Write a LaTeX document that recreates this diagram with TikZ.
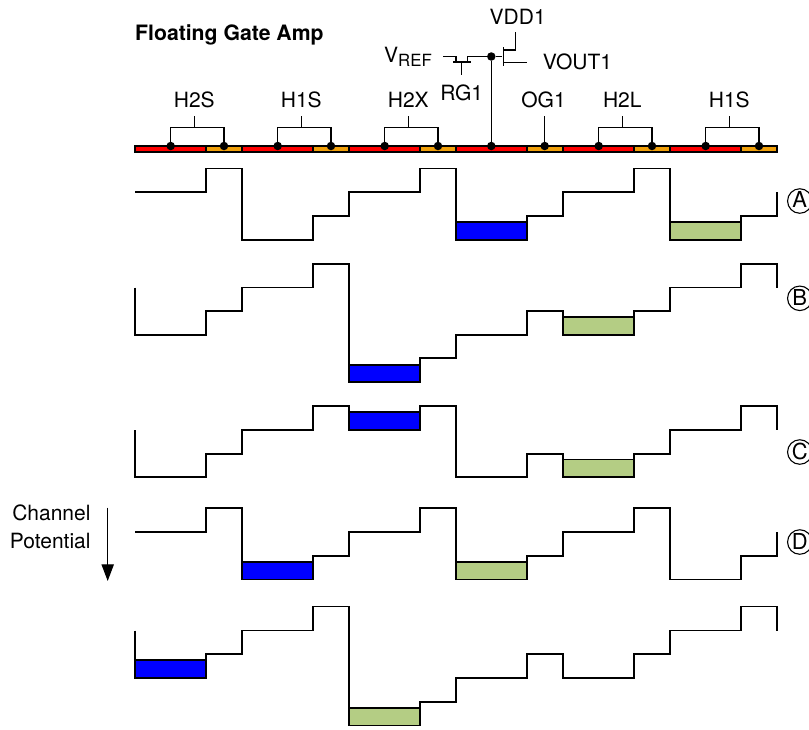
\documentclass[tikz,border=0pt]{standalone}
\usepackage{fontspec}
\setmainfont{TeX Gyre Heros}
\usepackage{tikz}
\usetikzlibrary{arrows.meta}
\definecolor{gatered}{RGB}{255,0,0}
\definecolor{gateorange}{RGB}{240,160,10}
\definecolor{wellblue}{RGB}{0,0,255}
\definecolor{wellgreen}{RGB}{180,205,132}
\tikzset{
	lbl/.style={inner sep=0pt,font=\fontsize{21}{24}\selectfont},
	pindot/.style={circle,fill=black,inner sep=0pt,minimum size=8.5pt},
	wire/.style={line width=1.3pt},
	prof/.style={line width=1.3pt,line join=miter},
	bluewell/.style={draw=black,fill=wellblue,line width=1.8pt},
	greenwell/.style={draw=black,fill=wellgreen,line width=1.8pt},
	tagcirc/.style={circle,draw,line width=1.1pt,inner sep=0pt,minimum size=24.5pt,font=\fontsize{22}{24}\selectfont},
}
\begin{document}
\begin{tikzpicture}[x=1pt,y=-1pt]
	\useasboundingbox (0,0) rectangle (809,729);
	\node [lbl,anchor=base west,font=\fontsize{21.2}{24}\selectfont\bfseries] (title) at (135,40) {Floating Gate Amp};
	% gate strip
	\foreach \i in {0,...,5}{
		\draw [line width=1.6pt,fill=gatered] ({135+107*\i},146.2) rectangle ({206+107*\i},151.8);
		\draw [line width=1.6pt,fill=gateorange] ({206+107*\i},146.2) rectangle ({242+107*\i},151.8);
	}
	% clocked gates
	\foreach \i/\txt in {0/H2S,1/H1S,2/H2X,4/H2L,5/H1S}{
		\node [pindot] (a\i) at ({170.7+107*\i},146) {};
		\node [pindot] (b\i) at ({224+107*\i},146) {};
		\node [lbl] (g\i) at ({194.3+107*\i},100) {\txt};
		\coordinate (s\i) at ({194.7+107*\i},127.5);
		\draw [wire] (a\i) |- (s\i) -| (b\i);
		\draw [wire] (s\i) -- ++(0,-12);
	}
	\node [pindot] (og) at (544.7,146) {};
	\node [lbl] (og1) at (543.5,100) {OG1};
	\draw [wire] (og) -- ++(0,-30);
	% amplifier
	\node [pindot] (fg) at (491.3,146) {};
	\node [pindot] (fd) at (491.3,56.5) {};
	\draw [wire] (fg) -- (fd);
	\node [lbl,anchor=base west] (vref) at (384,62.3) {V{\fontsize{16.8}{18}\selectfont\raisebox{-4.5pt}{REF}}};
	\node [lbl] (rg1) at (461.7,93) {RG1};
	\node [lbl] (vdd1) at (517.7,16.7) {VDD1};
	\node [lbl,anchor=west] (vout1) at (542.7,61.7) {VOUT1};
	\coordinate (rs) at (443,56.5);
	\draw [wire] (rs) -| (456,62) (453,62) -- (470.7,62) (461.7,62) -- (461.7,74.5) (467.3,62) |- (fd);
	\draw [wire] (fd) -- (502,56.5);
	\draw [wire] (503.3,47) -- (503.3,66);
	\draw [wire] (503.3,50) -| (515.3,32);
	\draw [wire] (503.3,62.3) -- (527.3,62.3);
	% row A
	\draw [bluewell] (456,222) rectangle (527,240);
	\draw [greenwell] (670,222) rectangle (741,240);
	\draw [prof] (135,192) -| (206,168.5) -| (242,240) -| (313,216) -| (349,192) -| (420,168.5) -| (456,240) -| (527,216) -| (563,192) -| (634,168.5) -| (670,240) -| (741,216) -| (777,192);
	% row B
	\draw [bluewell] (349,365) rectangle (420,382);
	\draw [greenwell] (563,317) rectangle (634,335);
	\draw [prof] (135,287.5) -- (135,335) -| (206,311) -| (242,287.5) -| (313,264) -| (349,382) -| (420,358) -| (456,335) -| (527,311) -| (563,335) -| (634,311) -| (670,287.5) -| (741,264) -| (777,287.5);
	% row C
	\draw [bluewell] (349,412) rectangle (420,430);
	\draw [greenwell] (563,459.5) rectangle (634,477);
	\draw [prof] (135,430) -- (135,477) -| (206,454) -| (242,430) -| (313,406) -| (349,430) -| (420,406) -| (456,477) -| (527,454) -| (563,477) -| (634,454) -| (670,430) -| (741,406) -| (777,430);
	% row D
	\draw [bluewell] (242,562) rectangle (313,579.5);
	\draw [greenwell] (456,562) rectangle (527,579.5);
	\draw [prof] (135,532) -| (206,508) -| (242,579.5) -| (313,556) -| (349,532) -| (420,508) -| (456,579.5) -| (527,556) -| (563,532) -| (634,508) -| (670,579.5) -| (741,556) -| (777,532);
	% row E
	\draw [bluewell] (135,660) rectangle (206,678);
	\draw [greenwell] (349,708) rectangle (420,725.5);
	\draw [prof] (135,630.5) -- (135,678) -| (206,654) -| (242,630.5) -| (313,606.7) -| (349,725.5) -| (420,702) -| (456,678) -| (527,654) -| (563,678) -| (634,654) -| (670,630.5) -| (741,606.7) -| (777,630.5);
	% tags
	\node [tagcirc] (ta) at (799.8,201) {\raisebox{2.5pt}{A}};
	\node [tagcirc] (tb) at (799.8,298.3) {\raisebox{2.5pt}{B}};
	\node [tagcirc] (tc) at (799.8,452) {\raisebox{1.5pt}{C}};
	\node [tagcirc] (td) at (799.8,542) {\raisebox{1.5pt}{D}};
	% potential axis
	\node [lbl,anchor=east] (chan) at (90.7,513) {Channel};
	\node [lbl,anchor=east] (pot) at (90.7,540.7) {Potential};
	\coordinate (pa) at (107.7,507.7);
	\coordinate (pb) at (107.7,581);
	\draw [line width=1.3pt,-{Triangle[length=16.7pt,width=12.3pt]}] (pa) -- (pb);
\end{tikzpicture}
\end{document}
